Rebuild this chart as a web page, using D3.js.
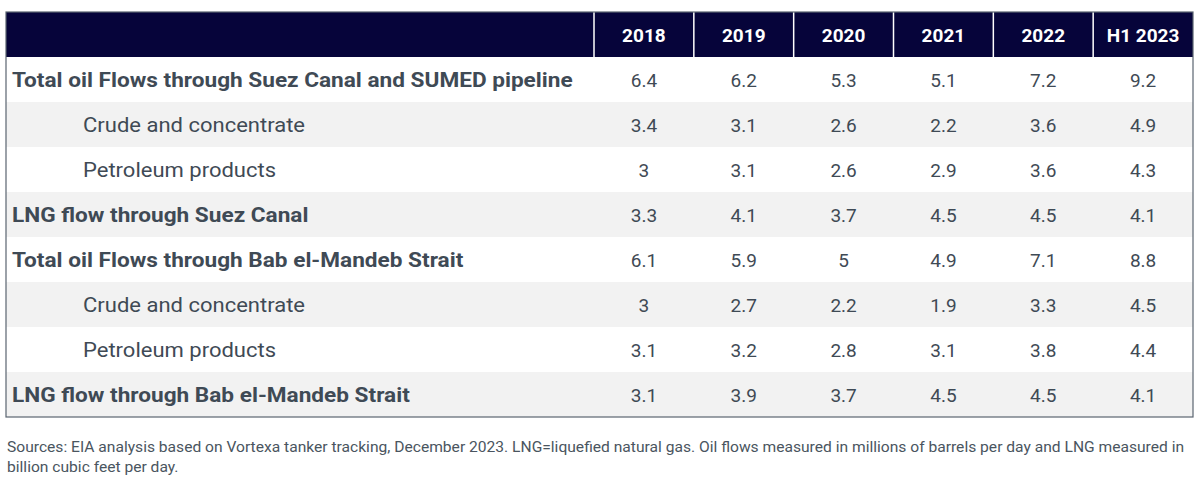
<!DOCTYPE html>
<html><head><meta charset="utf-8">
<script src="https://cdn.jsdelivr.net/npm/d3@7"></script>
<style>body{margin:0;background:#fff}</style></head>
<body><svg id="c" width="1200" height="495"></svg>
<script>
const years=["2018","2019","2020","2021","2022","H1 2023"];
const labels=["Total oil Flows through Suez Canal and SUMED pipeline","Crude and concentrate","Petroleum products","LNG flow through Suez Canal","Total oil Flows through Bab el-Mandeb Strait","Crude and concentrate","Petroleum products","LNG flow through Bab el-Mandeb Strait"];
const indent=[0,1,1,0,0,1,1,0];
const values=[
["6.4","6.2","5.3","5.1","7.2","9.2"],
["3.4","3.1","2.6","2.2","3.6","4.9"],
["3","3.1","2.6","2.9","3.6","4.3"],
["3.3","4.1","3.7","4.5","4.5","4.1"],
["6.1","5.9","5","4.9","7.1","8.8"],
["3","2.7","2.2","1.9","3.3","4.5"],
["3.1","3.2","2.8","3.1","3.8","4.4"],
["3.1","3.9","3.7","4.5","4.5","4.1"]];
const svg=d3.select("#c");
const L=6,R=1193,T=12,H=45,x0=594;
const y=d3.scaleBand().domain(d3.range(labels.length)).range([T+H,T+H*(labels.length+1)]);
const x=d3.scaleBand().domain(years).range([x0,R]);
const font="Roboto, sans-serif",tc="#3f4a55";
svg.append("rect").attr("x",L).attr("y",T).attr("width",R-L).attr("height",H).attr("fill","#06043a");
years.forEach((yr,i)=>{
  svg.append("line").attr("x1",x(yr)).attr("x2",x(yr)).attr("y1",T).attr("y2",T+H).attr("stroke","#fff").attr("stroke-width",1.5);
  svg.append("text").attr("x",x(yr)+x.bandwidth()/2).attr("y",T+H/2+7).attr("text-anchor","middle")
   .attr("fill","#fff").attr("font-family",font).attr("font-weight",700).attr("font-size",19).text(yr);
});
labels.forEach((lb,i)=>{
  svg.append("rect").attr("x",L).attr("y",y(i)).attr("width",R-L).attr("height",y.bandwidth()).attr("fill",i%2?"#f2f2f2":"#fff");
  const t=svg.append("text").attr("x",indent[i]?83:12).attr("y",y(i)+y.bandwidth()/2+7)
   .attr("fill",tc).attr("font-family",font).attr("font-weight",indent[i]?400:700).attr("font-size",20).text(lb);
  t.attr("textLength",null);
  // widen glyphs horizontally to match reference width
  const bb=t.node().getComputedTextLength();
  t.attr("textLength",bb*(indent[i]?1.1:1.13)).attr("lengthAdjust","spacingAndGlyphs");
  values[i].forEach((v,j)=>{
    svg.append("text").attr("x",x(years[j])+x.bandwidth()/2).attr("y",y(i)+y.bandwidth()/2+7).attr("text-anchor","middle")
     .attr("fill",tc).attr("font-family",font).attr("font-size",19).text(v);
  });
});
svg.append("rect").attr("x",L).attr("y",T).attr("width",R-L).attr("height",H*(labels.length+1)).attr("fill","none").attr("stroke","#5a6470").attr("stroke-width",1.2);
const note=["Sources: EIA analysis based on Vortexa tanker tracking, December 2023. LNG=liquefied natural gas. Oil flows measured in millions of barrels per day and LNG measured in","billion cubic feet per day."];
note.forEach((t,i)=>{
  const n=svg.append("text").attr("x",7).attr("y",452+i*20).attr("fill","#4a5560").attr("font-family",font).attr("font-size",15).text(t);
  const w=n.node().getComputedTextLength();
  n.attr("textLength",w*1.04).attr("lengthAdjust","spacingAndGlyphs");
});
</script></body></html>
